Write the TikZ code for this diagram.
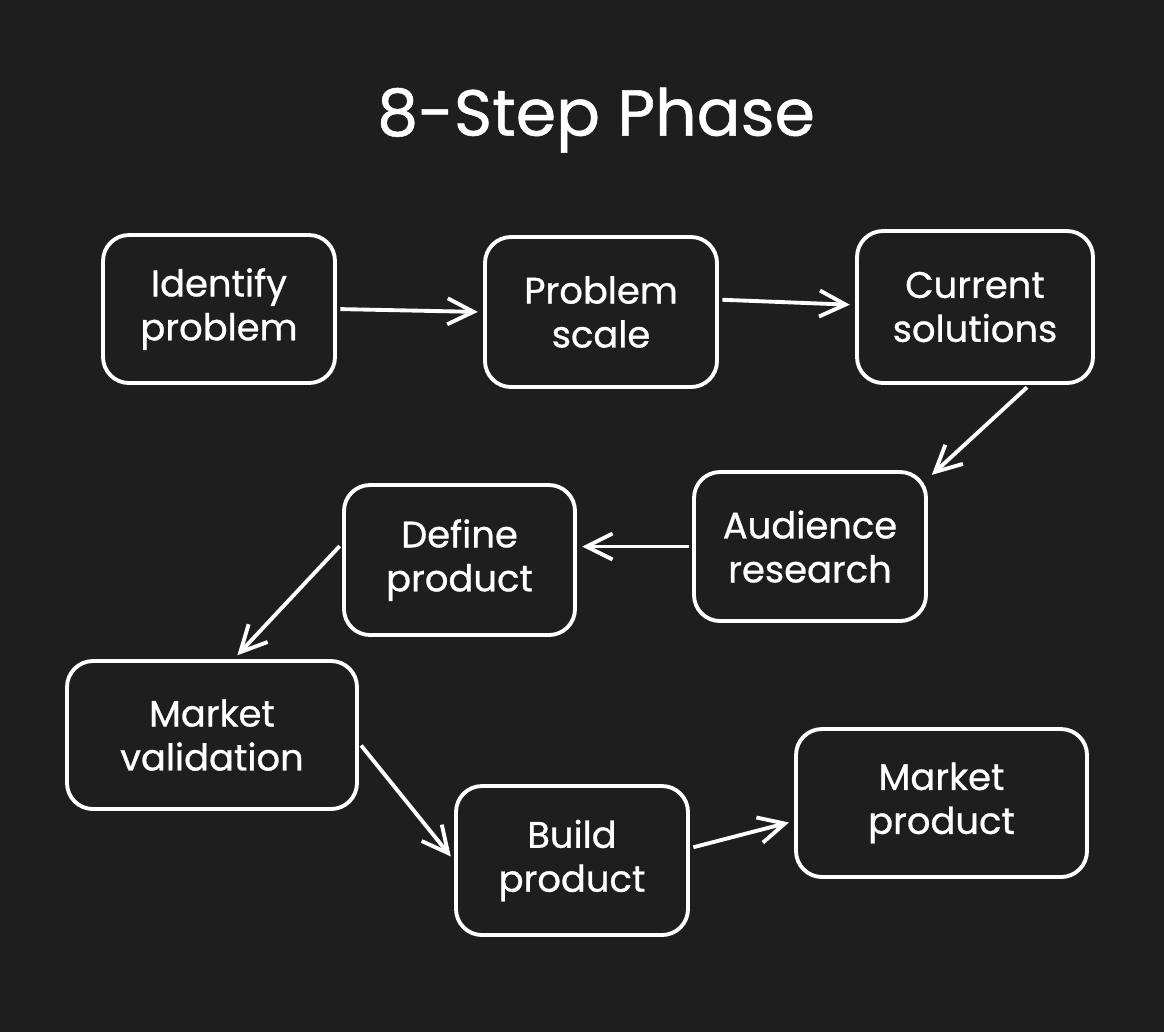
\documentclass[tikz,border=0pt]{standalone}
\usepackage{fontspec}
\setmainfont{Poppins}
\newfontfamily\sketchfont{Poppins}[FakeBold=0.8]
\usetikzlibrary{arrows.meta}
\usetikzlibrary{backgrounds}

\definecolor{canvas}{HTML}{1E1E1E}

\begin{document}
\begin{tikzpicture}[box/.style = {draw=white, line width=1.1pt, rounded corners=2.6mm, align=center, text=white, font=\sketchfont\fontsize{10.5}{12.5}\selectfont, inner sep=0pt},
	link/.style = {white, line width=1.1pt, -{Straight Barb[length=2.6mm,width=2.6mm]}, shorten <=1pt, shorten >=1.5pt}]
					\fill[canvas] (0,0) rectangle (11.64,-10.32);
					\useasboundingbox (0,0) rectangle (11.64,-10.32);
					\node[text=white,font=\sketchfont\fontsize{18.5}{22}\selectfont] (title) at (5.96,-1.2) {8-Step Phase};
					\begin{scope}[every node/.style={box}]
						\node[minimum width=2.32cm,minimum height=1.48cm] (ident) at (2.19,-3.09) {Identify\\problem};
						\node[minimum width=2.32cm,minimum height=1.50cm] (scale) at (6.01,-3.12) {Problem\\scale};
						\node[minimum width=2.36cm,minimum height=1.52cm] (curr) at (9.75,-3.07) {Current\\solutions};
						\node[minimum width=2.32cm,minimum height=1.49cm] (aud) at (8.10,-5.465) {Audience\\research};
						\node[minimum width=2.31cm,minimum height=1.50cm] (def) at (4.595,-5.60) {Define\\product};
						\node[minimum width=2.90cm,minimum height=1.48cm] (valid) at (2.12,-7.35) {Market\\validation};
						\node[minimum width=2.32cm,minimum height=1.49cm] (build) at (5.72,-8.605) {Build\\product};
						\node[minimum width=2.91cm,minimum height=1.48cm] (mkt) at (9.415,-8.03) {Market\\product};
					\end{scope}
					\draw [link] (ident.east) -- (scale.west);
					\draw [link] (scale.6) -- (curr.179);
					\draw [link] (curr.-55) -- (aud.30);
					\draw [link] (aud.west) -- (aud.west -| def.east);
					\draw [link] (def.172) -- (valid.74);
					\draw [link] (valid.-3) -- (build.west);
					\draw [link] (build.6) -- (mkt.187);
				\end{tikzpicture}
\end{document}
